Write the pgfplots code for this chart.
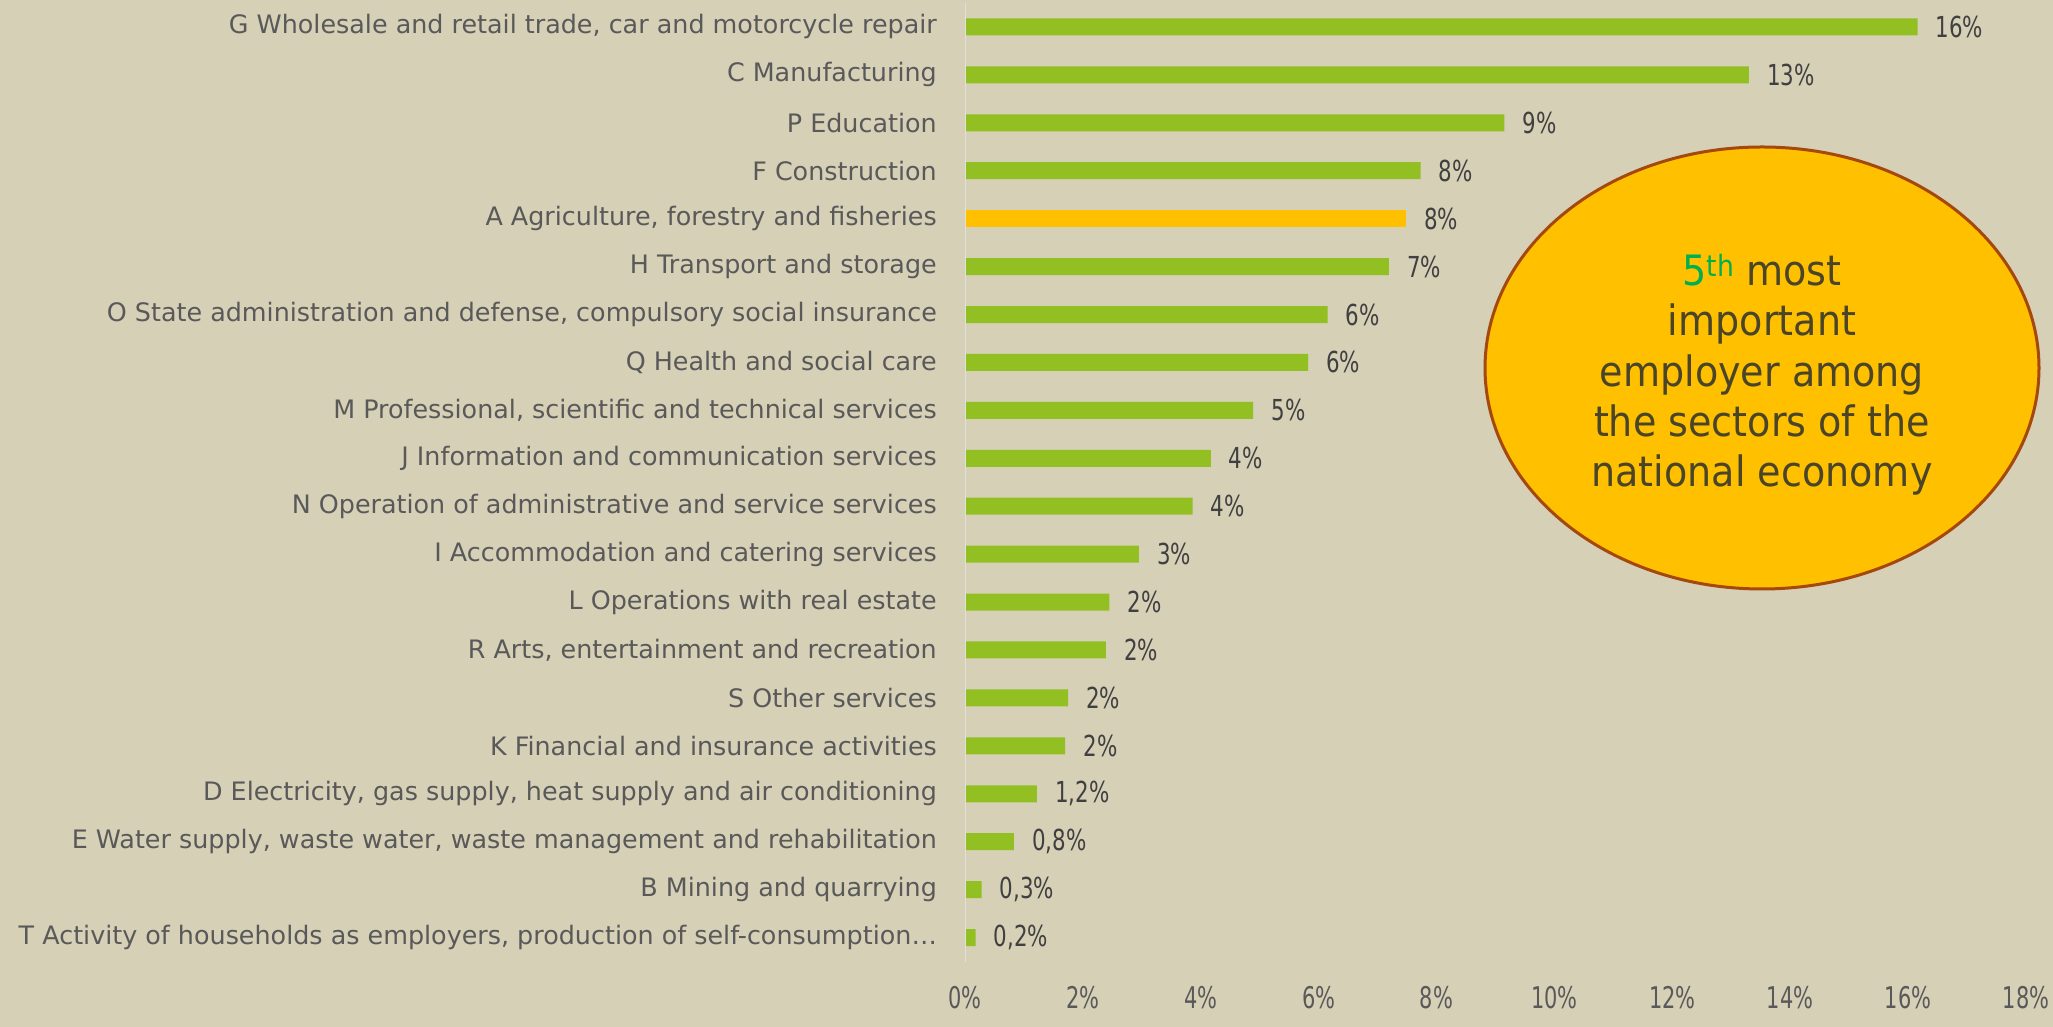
\documentclass[border=0pt]{standalone}
\usepackage{pgfplots}
\pgfplotsset{compat=1.18}
\usepackage{pgfplotstable}
\usepackage{fontspec}
\setmainfont{DejaVu Sans}
\newfontfamily\numfont[FakeStretch=0.7]{DejaVu Sans}
\newfontfamily\datfont[FakeStretch=0.74]{DejaVu Sans}
\newfontfamily\ellfont[FakeStretch=0.91]{DejaVu Sans}
\definecolor{bg}{HTML}{D6D0B7}
\definecolor{barg}{HTML}{92C023}
\definecolor{baro}{HTML}{FFC000}
\definecolor{ellb}{HTML}{A5480C}
\definecolor{txtg}{HTML}{595959}
\definecolor{txtd}{HTML}{404040}
\definecolor{elltxt}{HTML}{4A4529}
\definecolor{fifth}{HTML}{00B050}
\definecolor{axisgray}{HTML}{E2E0D8}

\pgfplotstableread{
y x lab
19 16.16 16
18 13.30 13
17 9.15 9
16 7.73 8
14 7.19 7
13 6.15 6
12 5.82 6
11 4.89 5
10 4.17 4
9 3.86 4
8 2.95 3
7 2.45 2
6 2.39 2
5 1.75 2
4 1.70 2
3 1.22 1,2
2 0.83 0,8
1 0.28 0,3
0 0.18 0,2
}\greendata
\pgfplotstableread{
y x lab
15 7.48 8
}\orangedata

\begin{document}
\begin{tikzpicture}
\fill[bg] (0,0) rectangle (2053bp,1027bp);
\begin{axis}[
  at={(965bp,65.5bp)}, anchor=south west,
  scale only axis, width=1061bp, height=958.5bp,
  xmin=0, xmax=18, ymin=-0.5, ymax=19.5,
  xbar, bar width=17bp, bar shift=0pt,
  axis line style={draw=none},
  major tick length=0pt, tick style={draw=none},
  ytick={0,...,19},
  yticklabels={
    {T Activity of households as employers, production of self-consumption…},
    {B Mining and quarrying},
    {E Water supply, waste water, waste management and rehabilitation},
    {D Electricity, gas supply, heat supply and air conditioning},
    {K Financial and insurance activities},
    {S Other services},
    {R Arts, entertainment and recreation},
    {L Operations with real estate},
    {I Accommodation and catering services},
    {N Operation of administrative and service services},
    {J Information and communication services},
    {M Professional, scientific and technical services},
    {Q Health and social care},
    {O State administration and defense, compulsory social insurance},
    {H Transport and storage},
    {A Agriculture, forestry and fisheries},
    {F Construction},
    {P Education},
    {C Manufacturing},
    {G Wholesale and retail trade, car and motorcycle repair}},
  yticklabel style={anchor=east, inner sep=0pt, xshift=-28bp,
    font=\fontsize{25.5}{30}\selectfont, text=txtg},
  xtick={0,2,...,18},
  xticklabels={0\%,2\%,4\%,6\%,8\%,10\%,12\%,14\%,16\%,18\%},
  xticklabel style={anchor=center, inner sep=0pt, yshift=-36.5bp,
    font=\numfont\fontsize{30}{34}\selectfont, text=txtg},
  point meta=explicit symbolic,
  nodes near coords={\pgfplotspointmeta\%},
  nodes near coords style={anchor=west, inner sep=0pt, xshift=18bp,
    font=\datfont\fontsize{29}{34}\selectfont, text=txtd},
]
\addplot[fill=barg, draw=none] table[x=x, y=y, meta=lab] {\greendata};
\addplot[fill=baro, draw=none] table[x=x, y=y, meta=lab] {\orangedata};
\draw[axisgray, line width=2bp] (axis cs:0,-0.5) -- (axis cs:0,19.5);
\end{axis}
\draw[ellb, line width=3bp, fill=baro] (1762bp,659bp) ellipse [x radius=277bp, y radius=221bp];
\node[align=center, font=\ellfont\fontsize{42}{50.5}\selectfont, text=elltxt, inner sep=0pt]
  at (1762bp,652bp) {\textcolor{fifth}{5\textsuperscript{th}} most\\important\\employer among\\the sectors of the\\national economy};
\pgfresetboundingbox
\useasboundingbox (0,0) rectangle (2053bp,1027bp);
\end{tikzpicture}
\end{document}
